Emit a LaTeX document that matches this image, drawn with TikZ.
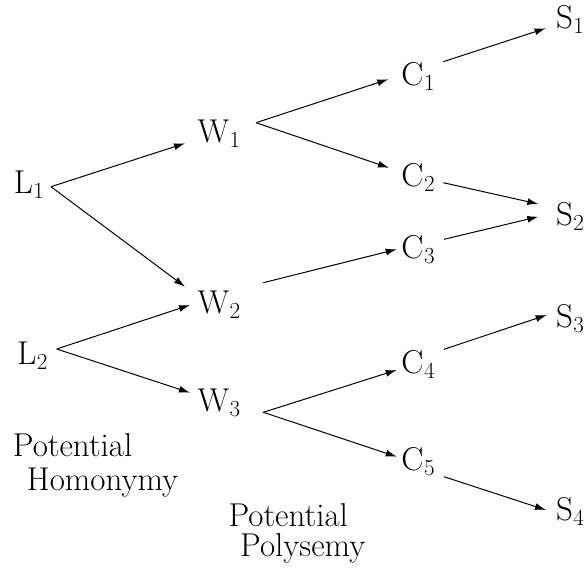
\documentclass[tikz,border=0pt]{standalone}
\usetikzlibrary{arrows.meta}
\newcommand{\mylbl}[2]{#1\kern0.5pt{\fontsize{23}{23}\selectfont\raisebox{-5pt}{#2}}}
\begin{document}
\begin{tikzpicture}[x=1pt,y=-1pt,
  lab/.style={inner sep=0pt,font=\fontsize{33}{40}\selectfont},
  txt/.style={inner sep=0pt,anchor=base west,font=\fontsize{33}{40}\selectfont},
  arr/.style={line width=1pt,-{Latex[length=11pt,width=7pt]}}]
\useasboundingbox (0,0) rectangle (588,573);
\node[lab] (L1) at (29,185) {\mylbl{L}{1}};
\node[lab] (L2) at (32.5,356) {\mylbl{L}{2}};
\node[lab] (W1) at (219,133.5) {\mylbl{W}{1}};
\node[lab] (W2) at (219,304.3) {\mylbl{W}{2}};
\node[lab] (W3) at (219,402.5) {\mylbl{W}{3}};
\node[lab] (C1) at (418,76) {\mylbl{C}{1}};
\node[lab] (C2) at (418,177.8) {\mylbl{C}{2}};
\node[lab] (C3) at (418,250) {\mylbl{C}{3}};
\node[lab] (C4) at (418,364) {\mylbl{C}{4}};
\node[lab] (C5) at (418,462) {\mylbl{C}{5}};
\node[lab] (S1) at (570,19) {\mylbl{S}{1}};
\node[lab] (S2) at (570,216) {\mylbl{S}{2}};
\node[lab] (S3) at (570,319) {\mylbl{S}{3}};
\node[lab] (S4) at (570,511) {\mylbl{S}{4}};
\node[txt] (p1) at (12.7,456) {Potential};
\node[txt] (h1) at (26.7,490) {Homonymy};
\node[txt] (p2) at (228.3,526) {Potential};
\node[txt] (h2) at (240,556) {Polysemy};
% L -> W
\draw[arr] ([shift={(22,1.7)}]L1.center) -- ([shift={(-34,9.8)}]W1.center);
\draw[arr] ([shift={(22,1.7)}]L1.center) -- ([shift={(-34,-17.6)}]W2.center);
\draw[arr] ([shift={(24.2,-7)}]L2.center) -- ([shift={(-29,0.7)}]W2.center);
\draw[arr] ([shift={(24.2,-7)}]L2.center) -- ([shift={(-29,-9.8)}]W3.center);
% W -> C
\draw[arr] ([shift={(37,-10.8)}]W1.center) -- ([shift={(-29.7,3.3)}]C1.center);
\draw[arr] ([shift={(37,-10.8)}]W1.center) -- ([shift={(-29,-10)}]C2.center);
\draw[arr] ([shift={(44.3,-21.6)}]W2.center) -- ([shift={(-21.3,-0.7)}]C3.center);
\draw[arr] ([shift={(44.3,9.8)}]W3.center) -- ([shift={(-21.3,6)}]C4.center);
\draw[arr] ([shift={(44.3,9.8)}]W3.center) -- ([shift={(-21.3,-5.3)}]C5.center);
% C -> S
\draw[arr] ([shift={(25.3,-14.3)}]C1.center) -- ([shift={(-24.3,9.3)}]S1.center);
\draw[arr] ([shift={(25.3,4.9)}]C2.center) -- ([shift={(-31.7,-12)}]S2.center);
\draw[arr] ([shift={(26,-10.7)}]C3.center) -- ([shift={(-31.7,0.7)}]S2.center);
\draw[arr] ([shift={(26,-14.7)}]C4.center) -- ([shift={(-23.3,-4)}]S3.center);
\draw[arr] ([shift={(26,14.7)}]C5.center) -- ([shift={(-24,-1)}]S4.center);
\end{tikzpicture}
\end{document}
